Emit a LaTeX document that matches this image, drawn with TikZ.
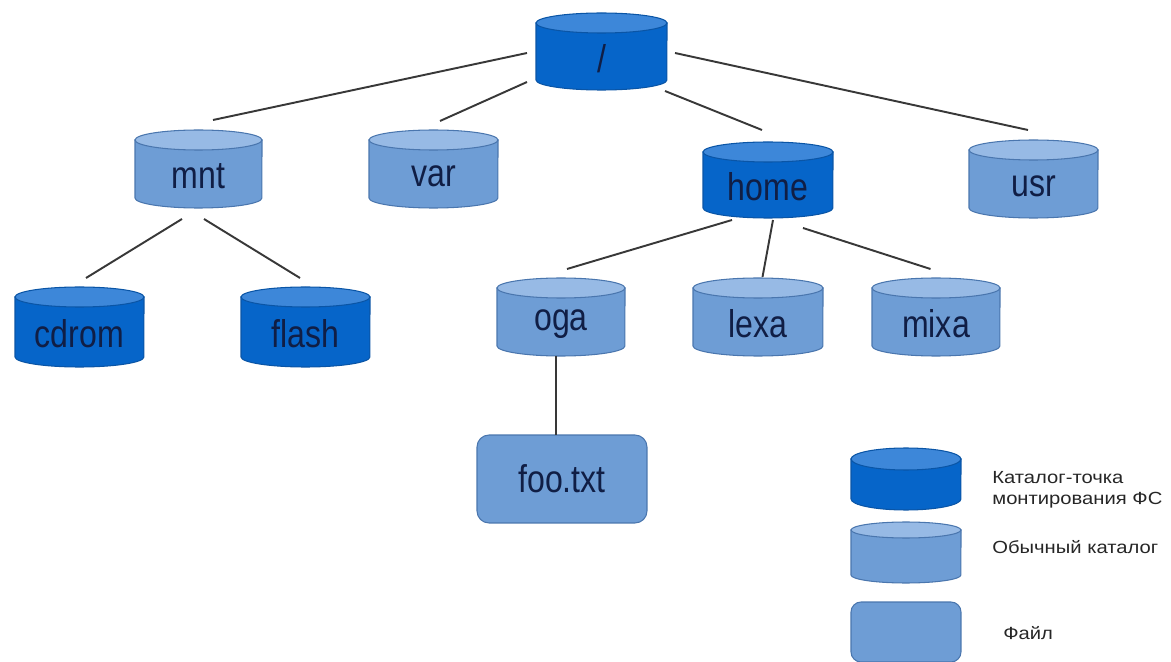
\documentclass[tikz,border=0pt]{standalone}
\usepackage{fontspec}
\usetikzlibrary{calc}
\newfontfamily\lblfont[FakeStretch=0.83]{Liberation Sans}
\newfontfamily\legfont[FakeStretch=1.15]{Liberation Sans}
\definecolor{dkfill}{HTML}{0665C9}
\definecolor{dktopc}{HTML}{3D87D9}
\definecolor{dkline}{HTML}{0A55A6}
\definecolor{ltfill}{HTML}{6E9DD5}
\definecolor{lttopc}{HTML}{97BAE5}
\definecolor{ltline}{HTML}{4A76AE}
\definecolor{txtc}{HTML}{101E45}
\definecolor{conc}{HTML}{383838}
\tikzset{
  dkbody/.style={fill=dkfill, draw=dkline, line width=0.6pt},
  dktop/.style={fill=dktopc, draw=dkline, line width=0.6pt},
  ltbody/.style={fill=ltfill, draw=ltline, line width=0.6pt},
  lttop/.style={fill=lttopc, draw=ltline, line width=0.6pt},
  lbl/.style={inner sep=0pt, text=txtc, font=\lblfont\fontsize{22}{25}\selectfont},
  legtxt/.style={inner sep=0pt, anchor=west, text=black!85, font=\legfont\fontsize{10}{12}\selectfont},
  filebox/.style={fill=ltfill, draw=ltline, line width=0.6pt, rounded corners=0.24cm, inner sep=0pt},
  con/.style={draw=conc, line width=1.1pt},
}
\newcommand\drawcyl[8]{%
  \path[#6body] (#2,#3+#7) -- (#2,#5-#7) arc[start angle=180, end angle=360, x radius={(#4-#2)*0.01cm}, y radius={#7*0.02cm}] -- (#4,#3+#7) -- cycle;
  \path[#6top] ({(#2+#4)/2},#3+#7) ellipse[x radius={(#4-#2)*0.01cm}, y radius={#7*0.02cm}];
  \node[lbl] (#1) at ({(#2+#4)/2},{(#3+#5)/2+7}) {#8};
}
\begin{document}
\begin{tikzpicture}[x=0.02cm, y=-0.02cm]
\useasboundingbox (0,0) rectangle (1171,662);
% tree cylinders
\drawcyl{root}{536}{13}{667}{90}{dk}{10}{/}
\drawcyl{mnt}{135}{130}{262}{208}{lt}{10}{mnt}
\drawcyl{var}{369}{130}{498}{208}{lt}{10}{var}
\drawcyl{home}{703}{142}{833}{218}{dk}{10}{home}
\drawcyl{usr}{969}{140}{1098}{218}{lt}{10}{usr}
\drawcyl{cdrom}{15}{287}{144}{367}{dk}{10}{cdrom}
\drawcyl{flash}{241}{287}{370}{367}{dk}{10}{flash}
\drawcyl{oga}{497}{278}{625}{356}{lt}{10}{oga}
\drawcyl{lexa}{693}{278}{823}{356}{lt}{10}{lexa}
\drawcyl{mixa}{872}{278}{1000}{356}{lt}{10}{mixa}
\node[filebox, minimum width=3.4cm, minimum height=1.76cm, text=txtc, font=\lblfont\fontsize{22}{25}\selectfont] (foo) at (562,479) {foo.txt};
% connectors
\draw[con] ($(root)+(-74.5,-5.5)$) -- ($(mnt)+(14.5,-56)$);
\draw[con] ($(root)+(-74.5,23.5)$) -- ($(var)+(6.5,-55)$);
\draw[con] ($(root)+(63.5,32.5)$) -- ($(home)+(-6,-57)$);
\draw[con] ($(root)+(73.5,-5.5)$) -- ($(usr)+(-5.5,-56)$);
\draw[con] ($(mnt)+(-16.5,43)$) -- ($(cdrom)+(6.5,-56)$);
\draw[con] ($(mnt)+(5.5,43)$) -- ($(flash)+(-5.5,-56)$);
\draw[con] ($(home)+(-36,33)$) -- ($(oga)+(6,-55)$);
\draw[con] ($(home)+(5,33)$) -- ($(lexa)+(4.5,-47)$);
\draw[con] ($(home)+(35,41)$) -- ($(mixa)+(-5.5,-55)$);
\draw[con] ($(oga)+(-5,32)$) -- ($(foo)+(-6,-44)$);
% legend
\drawcyl{legmount}{851}{448}{961}{510}{dk}{11}{}
\drawcyl{legdir}{851}{522}{961}{583}{lt}{8}{}
\node[filebox, minimum width=2.2cm, minimum height=1.2cm, rounded corners=0.2cm] (legfile) at (906,632) {};
\node[legtxt] (legt1) at (992,478) {Каталог-точка};
\node[legtxt] (legt2) at (992,500) {монтирования ФС};
\node[legtxt] (legt3) at (992,547) {Обычный каталог};
\node[legtxt] (legt4) at (1003,633) {Файл};
\end{tikzpicture}
\end{document}
